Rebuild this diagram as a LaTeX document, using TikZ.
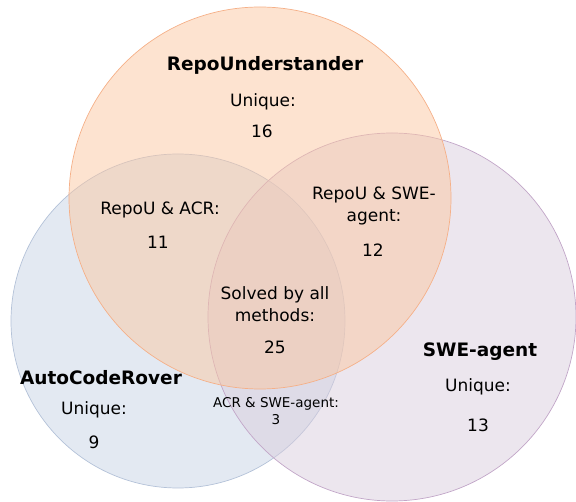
\documentclass[tikz,border=0pt]{standalone}
\usepackage{fontspec}
\setmainfont{DejaVu Sans}
\usepackage{tikz}

\definecolor{ruFill}{HTML}{FBC7A1}
\definecolor{ruEdge}{HTML}{F5B088}
\definecolor{acrFill}{HTML}{C7D3E5}
\definecolor{acrEdge}{HTML}{B4C2D8}
\definecolor{sweFill}{HTML}{D9CDDD}
\definecolor{sweEdge}{HTML}{C2A6C8}

\begin{document}
\begin{tikzpicture}[x=1pt,y=1pt,
  every node/.style={inner sep=0pt, align=center},
  title/.style={font=\fontsize{18.5}{23}\selectfont\bfseries},
  lbl/.style={font=\fontsize{17}{22}\selectfont},
  small/.style={font=\fontsize{13.5}{17}\selectfont},
  set/.style={line width=0.7pt, fill opacity=0.5}]
  \useasboundingbox (0,0) rectangle (576,-502);
  % the three sets
  \draw [set, draw=acrEdge, fill=acrFill] (178,-321) circle (167);
  \draw [set, draw=sweEdge, fill=sweFill] (392,-317) circle (184);
  \draw [set, draw=ruEdge, fill=ruFill] (260,-198) circle (191);
  % RepoUnderstander
  \node [title] (ruName) at (265,-65) {RepoUnderstander};
  \node [lbl] (ruUniq) at (263,-102) {Unique:};
  \node [lbl] (ruNum) at (262,-131) {16};
  % AutoCodeRover
  \node [title] (acrName) at (101,-378) {AutoCodeRover};
  \node [lbl] (acrUniq) at (94,-410) {Unique:};
  \node [lbl] (acrNum) at (94,-442) {9};
  % SWE-agent
  \node [title] (sweName) at (480,-352) {SWE-agent};
  \node [lbl] (sweUniq) at (478,-387) {Unique:};
  \node [lbl] (sweNum) at (478,-425) {13};
  % overlaps
  \node [lbl] (ruAcr) at (160,-210) {RepoU \& ACR:};
  \node [lbl] (ruAcrNum) at (158,-242) {11};
  \node [lbl] (ruSwe) at (374,-206) {RepoU \& SWE-\\agent:};
  \node [lbl] (ruSweNum) at (373,-250) {12};
  \node [lbl] (all) at (275,-304) {Solved by all\\methods:};
  \node [lbl] (allNum) at (275,-347) {25};
  \node [small] (acrSwe) at (276,-411) {ACR \& SWE-agent:\\3};
\end{tikzpicture}
\end{document}
